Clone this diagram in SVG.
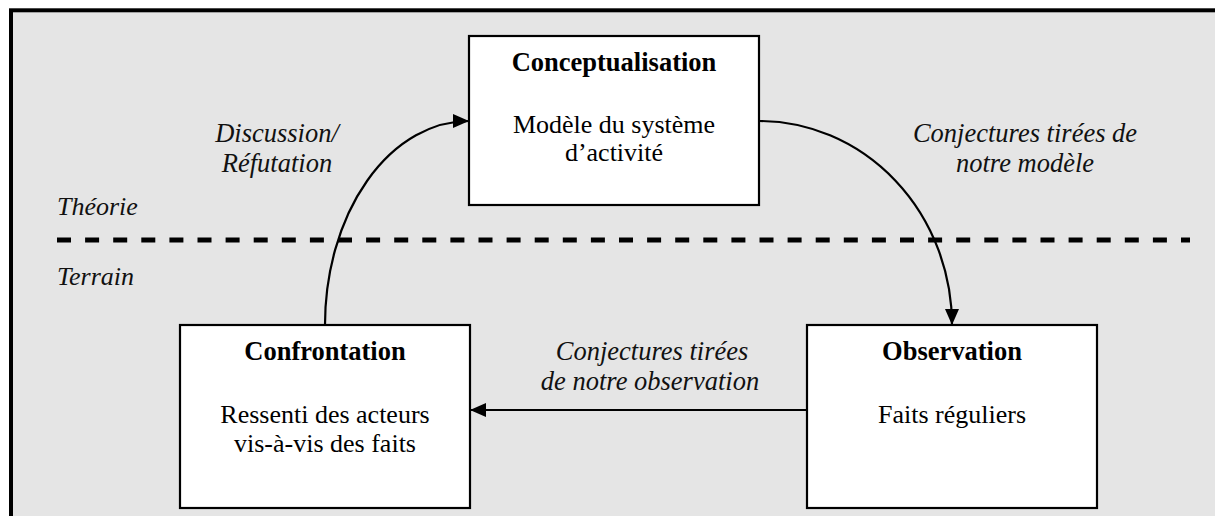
<svg xmlns="http://www.w3.org/2000/svg" width="1215" height="516" viewBox="0 0 1215 516">
  <style>
    text { font-family: "Liberation Serif", serif; }
    .title { font-weight: bold; font-size: 26.5px; fill: #000; text-anchor: middle; }
    .body { font-size: 26px; fill: #000; text-anchor: middle; }
    .lab { font-style: italic; font-size: 26.5px; fill: #111; text-anchor: middle; }
    .zone { font-style: italic; font-size: 26px; fill: #111; }
    .box { fill: #ffffff; stroke: #000000; stroke-width: 2.2; }
    .conn { fill: none; stroke: #000; stroke-width: 2.2; }
  </style>
  <defs>
    <marker id="arrow" markerUnits="userSpaceOnUse" viewBox="0 0 16 14" refX="16" refY="7" markerWidth="16" markerHeight="14" orient="auto">
      <path d="M0,0 L16,7 L0,14 z" fill="#000"/>
    </marker>
  </defs>
  <rect x="0" y="0" width="1215" height="516" fill="#ffffff"/>
  <rect x="11" y="10.3" width="1220" height="520" fill="#e5e5e5" stroke="#000" stroke-width="4"/>

  <g id="zones">
    <text class="zone" x="57" y="215">Théorie</text>
    <text class="zone" x="57" y="285">Terrain</text>
    <line x1="57" y1="240" x2="1190" y2="240" stroke="#000" stroke-width="5" stroke-dasharray="14 14.1"/>
  </g>

  <g id="connectors">
    <path class="conn" d="M325,325 A144,204 0 0 1 469,121" marker-end="url(#arrow)"/>
    <path class="conn" d="M759,121 A193,204 0 0 1 952,325" marker-end="url(#arrow)"/>
    <path class="conn" d="M807,410 L470,410" marker-end="url(#arrow)"/>
    <text class="lab" x="277" y="142">Discussion/</text>
    <text class="lab" x="277" y="172">Réfutation</text>
    <text class="lab" x="1025" y="142">Conjectures tirées de</text>
    <text class="lab" x="1025" y="172">notre modèle</text>
    <text class="lab" x="652" y="360">Conjectures tirées</text>
    <text class="lab" x="650" y="390">de notre observation</text>
  </g>

  <g id="conceptualisation">
    <rect class="box" x="469" y="36" width="290" height="169"/>
    <text class="title" x="614" y="71">Conceptualisation</text>
    <text class="body" x="614" y="133">Modèle du système</text>
    <text class="body" x="614" y="161">d’activité</text>
  </g>

  <g id="confrontation">
    <rect class="box" x="180" y="325" width="290" height="183"/>
    <text class="title" x="325" y="360">Confrontation</text>
    <text class="body" x="325" y="423">Ressenti des acteurs</text>
    <text class="body" x="325" y="452">vis-à-vis des faits</text>
  </g>

  <g id="observation">
    <rect class="box" x="807" y="325" width="290" height="183"/>
    <text class="title" x="952" y="360">Observation</text>
    <text class="body" x="952" y="423">Faits réguliers</text>
  </g>
</svg>
